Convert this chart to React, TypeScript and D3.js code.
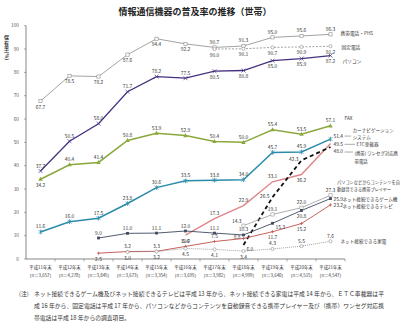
import React from "react";
import * as d3 from "d3";

const years = ["平成11年末","平成12年末","平成13年末","平成14年末","平成15年末","平成16年末","平成17年末","平成18年末","平成19年末","平成20年末","平成21年末"];
const nCounts = ["3,657","4,278","3,845","3,673","3,354","3,695","3,982","4,999","3,640","4,515","4,547"];
const yTicks = [0,10,20,30,40,50,60,70,80,90,100];

const mobile = [67.7,78.5,78.2,87.6,94.4,92.2,90.7,91.3,95.0,95.6,96.3];
const landline = [null,null,null,null,null,null,90.0,90.1,90.7,90.9,91.2];
const pc = [37.7,50.5,58.0,71.7,78.2,77.5,80.5,80.8,85.0,85.9,87.2];
const fax = [34.2,40.4,41.4,50.8,53.9,52.9,50.4,50.0,55.4,53.5,57.1];
const carNavi = [11.6,16.0,17.5,23.8,30.6,33.5,33.8,34.0,45.7,45.9,51.4];
const etc = [null,null,null,null,null,10.2,17.3,22.9,33.1,36.2,49.5];
const oneSeg = [null,null,null,null,null,null,null,6.0,26.5,42.3,48.0];
const player = [null,null,null,null,null,null,null,14.3,19.1,22.0,27.3];
const game = [null,null,9.0,11.0,11.1,12.0,11.1,10.3,15.3,20.8,25.9];
const tv = [null,null,2.5,3.2,3.3,5.4,7.5,8.8,11.7,15.2,23.2];
const appliance = [null,null,null,3.0,3.2,4.5,4.1,3.4,4.3,5.5,7.6];

const noteLines = [
  "ネット接続できるゲーム機及びネット接続できるテレビは平成 13 年から、ネット接続できる家電は平成 14 年から、ＥＴＣ車載器は平",
  "成 16 年から、固定電話は平成 17 年から、パソコンなどからコンテンツを自動録音できる携帯プレイヤー及び（携帯）ワンセグ対応携",
  "帯電話は平成 18 年からの調査項目。",
];

type S = {
  key: string; values: (number|null)[]; color: string; width: number; dash?: string;
  marker: string; labels: string[]; name: string[]; nameDx: number; nameDy: number;
  nameSize: number; lineGap: number; leaderDy?: number;
};

const series: S[] = [
  { key: "mobile", values: mobile, color: "#8c8c8c", width: 0.8, marker: "sq", labels: ["b","b","b","b","b","b","a","a","a","a","a"], name: ["携帯電話・PHS"], nameDx: 10, nameDy: 1, nameSize: 4.7, lineGap: 7 },
  { key: "landline", values: landline, color: "#8c8c8c", width: 0.8, dash: "2,1.5", marker: "circ", labels: ["","","","","","","b","b","b","b","b"], name: ["固定電話"], nameDx: 11, nameDy: 3, nameSize: 4.7, lineGap: 7 },
  { key: "pc", values: pc, color: "#45307f", width: 1.3, marker: "x", labels: ["a","a","a","a","a","a","b","b","b","b","b"], name: ["パソコン"], nameDx: 12, nameDy: 7, nameSize: 4.7, lineGap: 7 },
  { key: "fax", values: fax, color: "#8aa83c", width: 1.5, marker: "tri", labels: ["b","a","a","a","a","a","a","a","a","a","a"], name: ["FAX"], nameDx: 14, nameDy: -6, nameSize: 4.7, lineGap: 7 },
  { key: "carNavi", values: carNavi, color: "#2b8bab", width: 1.5, marker: "star", labels: ["a","a","a","a","a","a","a","a","a","a","ra"], name: ["カーナビゲーション","システム"], nameDx: 22, nameDy: -7, nameSize: 4.6, lineGap: 6.8, leaderDy: -3 },
  { key: "etc", values: etc, color: "#e0868a", width: 1.4, marker: "none", labels: ["","","","","","b","a","a","a","b","r"], name: ["ETC車載器"], nameDx: 26, nameDy: 2.5, nameSize: 4.6, lineGap: 7, leaderDy: 0.8 },
  { key: "oneSeg", values: oneSeg, color: "#111111", width: 1.8, dash: "4,3", marker: "none", labels: ["","","","","","","","rb","l","l","rb"], name: ["(携帯) ワンセグ対応携","帯電話"], nameDx: 24, nameDy: 8, nameSize: 4.4, lineGap: 8, leaderDy: 5 },
  { key: "player", values: player, color: "#9a9a9a", width: 0.8, marker: "sq", labels: ["","","","","","","","al","a","a","a"], name: ["パソコンなどからコンテンツを自","動録音できる携帯プレイヤー"], nameDx: 6.5, nameDy: -11, nameSize: 4.2, lineGap: 7 },
  { key: "game", values: game, color: "#3e4a5e", width: 0.9, marker: "fsq", labels: ["","","a","a","a","a","a","a","rb","b","r"], name: ["ネット接続できるゲーム機"], nameDx: 12, nameDy: 2, nameSize: 4.6, lineGap: 7 },
  { key: "tv", values: tv, color: "#c0504d", width: 0.9, marker: "plus", labels: ["","","b","a","a","a","a","l","b","b","r"], name: ["ネット接続できるテレビ"], nameDx: 12, nameDy: 3, nameSize: 4.6, lineGap: 7 },
  { key: "appliance", values: appliance, color: "#8c8c8c", width: 0.8, dash: "1,1", marker: "circ", labels: ["","","","b","b","b","b","b","a","a","a"], name: ["ネット接続できる家電"], nameDx: 10, nameDy: 2, nameSize: 4.6, lineGap: 7 },
];

const FONT = "'Noto Sans CJK JP', 'Noto Sans', sans-serif";

export default function App() {
  const W = 400, H = 323;
  const x = d3.scaleBand<string>().domain(years).range([26, 345]).paddingInner(0).paddingOuter(0);
  const cx = (i: number) => (x(years[i]) as number) + x.bandwidth() / 2;
  const y = d3.scaleLinear().domain([0, 100]).range([259, 25.7]);

  const marker = (s: S, px: number, py: number, k: string) => {
    const c = s.color;
    switch (s.marker) {
      case "sq": return <rect key={k} x={px - 1.6} y={py - 1.6} width={3.2} height={3.2} fill="#fff" stroke={c} strokeWidth={0.6} />;
      case "fsq": return <rect key={k} x={px - 1.4} y={py - 1.4} width={2.8} height={2.8} fill={c} />;
      case "circ": return <circle key={k} cx={px} cy={py} r={1.6} fill="#fff" stroke={c} strokeWidth={0.6} />;
      case "x": return <path key={k} d={`M${px-2},${py-2}L${px+2},${py+2}M${px-2},${py+2}L${px+2},${py-2}`} stroke={c} strokeWidth={0.7} />;
      case "star": return <path key={k} d={`M${px-2},${py-2}L${px+2},${py+2}M${px-2},${py+2}L${px+2},${py-2}M${px},${py-2.4}L${px},${py+2.4}`} stroke={c} strokeWidth={0.7} />;
      case "tri": return <path key={k} d={`M${px},${py-2.4}L${px+2.2},${py+1.6}L${px-2.2},${py+1.6}Z`} fill={c} />;
      case "plus": return <path key={k} d={`M${px-1.6},${py}L${px+1.6},${py}M${px},${py-1.6}L${px},${py+1.6}`} stroke={c} strokeWidth={0.7} />;
      default: return null;
    }
  };

  const labelPos = (side: string, px: number, py: number) => {
    switch (side) {
      case "a": return { lx: px, ly: py - 3.5, anchor: "middle" };
      case "b": return { lx: px, ly: py + 7.5, anchor: "middle" };
      case "l": return { lx: px - 3, ly: py + 1, anchor: "end" };
      case "al": return { lx: px - 2, ly: py - 3, anchor: "end" };
      case "r": return { lx: px + 3, ly: py + 2, anchor: "start" };
      case "ra": return { lx: px + 3, ly: py - 1.5, anchor: "start" };
      case "rb": return { lx: px + 3, ly: py + 6, anchor: "start" };
      default: return null;
    }
  };

  return (
    <svg width={W} height={H} style={{ display: "block", position: "absolute", left: 0, top: 0, background: "#fff" }} fontFamily={FONT}>
      <text x={195} y={15} textAnchor="middle" fontSize={9} fontWeight="bold" fill="#222">情報通信機器の普及率の推移（世帯）</text>
      {/* y-axis title */}
      <g fontSize={5} fill="#333" fontWeight="bold">
        {["保","有","率"].map((c, i) => <text key={c} x={6.5} y={39 + i * 5.6} textAnchor="middle">{c}</text>)}
        <text transform={`translate(4.6,51.5) rotate(90)`} textAnchor="start">(%)</text>
      </g>
      {/* y axis */}
      <line x1={26} x2={26} y1={y(100)} y2={y(0)} stroke="#555" strokeWidth={0.7} />
      {yTicks.map(t => (
        <g key={t}>
          <line x1={24} x2={26} y1={y(t)} y2={y(t)} stroke="#555" strokeWidth={0.5} />
          <text x={19} y={y(t) + 1.7} textAnchor="end" fontSize={4.8} fill="#555">{t}</text>
        </g>
      ))}
      {/* x axis */}
      <line x1={26} x2={345} y1={y(0)} y2={y(0)} stroke="#555" strokeWidth={0.7} />
      {years.map((yr, i) => (
        <g key={yr}>
          <line x1={(x(yr) as number) + x.bandwidth()} x2={(x(yr) as number) + x.bandwidth()} y1={y(0)} y2={y(0) + 2.5} stroke="#555" strokeWidth={0.5} />
          <text x={cx(i)} y={269} textAnchor="middle" fontSize={4.4} fill="#333">{yr}</text>
          <text x={cx(i)} y={277} textAnchor="middle" fontSize={4.4} fill="#333">（n＝{nCounts[i]}）</text>
        </g>
      ))}
      {/* lines */}
      {series.map(s => {
        const pts = s.values.map((v, i) => ({ v, i }));
        const gen = d3.line<{ v: number|null; i: number }>().defined(d => d.v !== null).x(d => cx(d.i)).y(d => y(d.v as number));
        return <path key={s.key} d={gen(pts) || ""} fill="none" stroke={s.color} strokeWidth={s.width} strokeDasharray={s.dash} />;
      })}
      {series.map(s => (
        <g key={s.key + "m"}>{s.values.map((v, i) => v === null ? null : marker(s, cx(i), y(v), s.key + i))}</g>
      ))}
      {/* data labels */}
      {series.map(s => (
        <g key={s.key + "l"} fontSize={4.9} fill="#333">
          {s.values.map((v, i) => {
            if (v === null) return null;
            const p = labelPos(s.labels[i], cx(i), y(v));
            if (!p) return null;
            return <text key={i} x={p.lx} y={p.ly} textAnchor={p.anchor as any}>{v.toFixed(1)}</text>;
          })}
        </g>
      ))}
      {/* series names */}
      {series.map(s => {
        const last = s.values.length - 1;
        const px = cx(last), py = y(s.values[last] as number);
        const nx = px + s.nameDx, ny = py + s.nameDy;
        return (
          <g key={s.key + "n"} fontSize={s.nameSize} fill="#333">
            {s.leaderDy !== undefined && <line x1={px + 14} x2={nx - 1.5} y1={py + s.leaderDy} y2={py + s.leaderDy} stroke="#555" strokeWidth={0.5} />}
            {s.name.map((t, j) => <text key={j} x={nx} y={ny + j * s.lineGap}>{t}</text>)}
          </g>
        );
      })}
      {/* notes */}
      <g fontSize={5.8} fill="#333">
        <text x={19} y={296}>(注)</text>
        <text x={34} y={296} textLength={350} lengthAdjust="spacing">{noteLines[0]}</text>
        <text x={34} y={308} textLength={350} lengthAdjust="spacing">{noteLines[1]}</text>
        <text x={34} y={320}>{noteLines[2]}</text>
      </g>
    </svg>
  );
}
